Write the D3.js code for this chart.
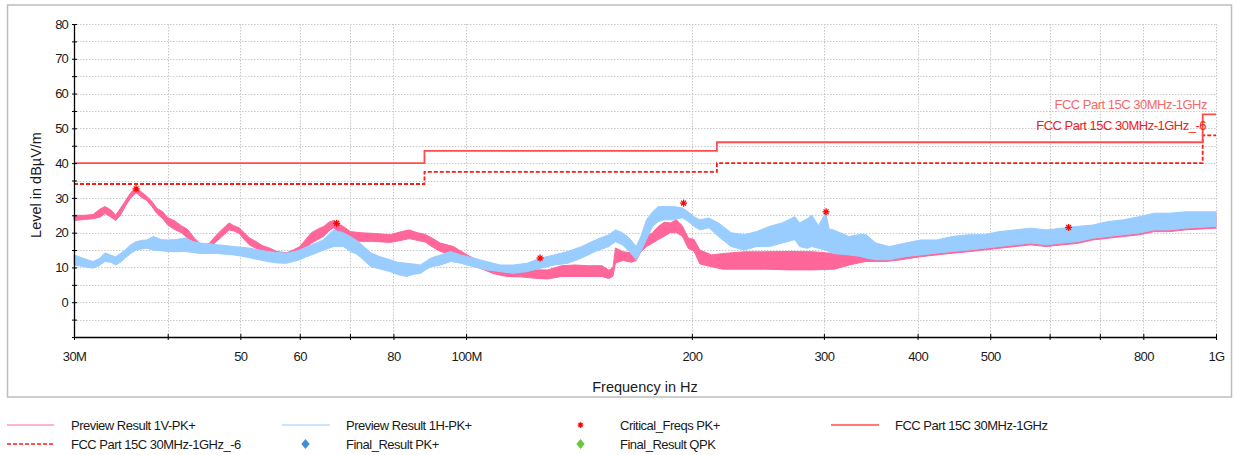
<!DOCTYPE html>
<html>
<head>
<meta charset="utf-8">
<script src="https://cdn.jsdelivr.net/npm/d3@7/dist/d3.min.js"></script>
<style>
  html, body { margin: 0; padding: 0; background: #fff; }
  svg text { font-family: "Liberation Sans", Arial, sans-serif; }
</style>
</head>
<body>
<svg id="chart" width="1235" height="455"></svg>
<script>
// ---------------- DATA ----------------
const freqTicks  = [30, 40, 50, 60, 70, 80, 100, 200, 300, 400, 500, 600, 700, 800, 1000];
const freqLabels = ["30M", "", "50", "60", "", "80", "100M", "200", "300", "400", "500", "", "", "800", "1G"];
const levelTicks = [-10, -5, 0, 5, 10, 15, 20, 25, 30, 35, 40, 45, 50, 55, 60, 65, 70, 75, 80];
const levelLabels = ["", "", "0", "", "10", "", "20", "", "30", "", "40", "", "50", "", "60", "", "70", "", "80"];

// Preview Result 1V-PK+ (noise band: low / high level, dBµV/m)
const vFreq = [30, 31, 31.8, 32.5, 33.0, 33.6, 34.1, 34.6, 35.1, 35.7, 36.3, 37.0, 37.5, 38.1, 38.7, 39.4, 40.0, 40.8, 41.7, 42.5,
  43.4, 44.1, 44.8, 45.5, 46.3, 47.3, 48.3, 49.0, 49.8, 50.6, 51.4, 52.4, 53.6, 54.8, 55.9, 57.6, 58.8, 60.0, 61.1, 62.2,
  63.4, 64.6, 65.6, 66.6, 67.6, 68.6, 70.1, 72.2, 75, 79.2, 82, 84, 86, 88.2, 90, 92.4, 96.2, 100.3, 104.4, 108.8,
  113.4, 118.3, 123.3, 128.5, 134, 139.7, 145.6, 151.8, 155, 157, 158.2, 162, 166, 168.6, 171, 174, 177.3, 180.4, 183.8, 187.2,
  190.7, 194.2, 197.8, 201.4, 205, 212.5, 220, 235, 250, 270, 290, 310, 324, 341, 363, 380, 404, 424, 445, 467,
  490, 514, 539, 566, 594, 623, 653, 685, 718, 753, 790, 828, 868, 910, 1000];
const vLow = [23.5, 23.8, 24, 24.5, 25.5, 24.5, 23.5, 25, 27.5, 30, 31.5, 30, 29.3, 27.5, 25.5, 24, 22.2, 21, 20, 18.5,
  16.5, 15, 15, 15.5, 17.2, 19, 20.8, 20.5, 19.8, 18, 16.5, 15.5, 14.6, 13.5, 12.7, 12.2, 13, 14, 15.5, 17,
  18, 19, 20.5, 21.5, 20, 19.4, 18, 17.5, 17.5, 17.2, 17.8, 18.3, 17.8, 17.3, 16, 14.6, 13.6, 11.7, 9.8, 8.2,
  7.4, 7.3, 6.9, 6.7, 7.4, 7.4, 7.4, 7.4, 6.8, 7.5, 11.3, 12, 11.5, 12, 14.5, 16, 17, 18, 19, 20,
  20, 19, 15.5, 14.6, 11, 10.2, 9.5, 9.5, 9.5, 9.3, 9.3, 9.5, 10.7, 11.7, 11.7, 12.2, 13.1, 13.6, 14.1, 14.5,
  15, 15.5, 16, 16.5, 16, 16.5, 16.9, 17.9, 18.4, 18.9, 19.4, 20.3, 20.3, 20.8, 21.3];
const vHigh = [25, 25, 25.2, 26.8, 27.5, 26.5, 25, 27, 29, 31.5, 33, 31.5, 30.5, 29, 27, 26, 24.3, 23.5, 22, 21,
  18.5, 17, 16.5, 17, 19, 21, 22.8, 22, 21.4, 20, 18.5, 17.5, 16.2, 15.5, 14.6, 14.2, 15, 16, 18, 20,
  21, 21.8, 23, 23.5, 22.5, 21.8, 20.3, 20, 19.8, 19.4, 20.3, 20.8, 20, 19.5, 18.5, 17, 16, 13.6, 11.7, 10.4,
  9.8, 9.5, 9.3, 9.3, 10.5, 10.7, 10.5, 10.5, 9.2, 10, 15.6, 14.5, 14.2, 15, 17.5, 18.8, 20, 21.8, 23, 22.8,
  23.7, 22, 18.5, 18, 15, 13.6, 14, 14.5, 14.5, 14.6, 14.5, 14, 13.6, 14.2, 14.6, 15.5, 17.4, 17.4, 18.4, 18.9,
  18.9, 19.8, 20.3, 20.8, 20.3, 20.8, 21.3, 21.7, 22.7, 23.2, 24.1, 25.1, 25.1, 25.5, 25.8];

// Preview Result 1H-PK+
const hFreq = [30, 31, 31.8, 32.4, 33.0, 33.6, 34.1, 34.6, 35.1, 35.7, 36.3, 37.0, 37.5, 38.3, 39.2, 40.0, 41.0, 42.2, 43.2, 44.2,
  45.4, 46.6, 47.8, 49.0, 50.3, 51.6, 53, 54.3, 56, 57.6, 58.8, 60, 61.1, 62.2, 63.4, 64.6, 65.6, 66.6, 67.6, 68.6,
  70.1, 71.2, 72.2, 73.5, 74.7, 77, 79.2, 81, 83.3, 85, 86.9, 88.3, 89.8, 92.4, 95.4, 98.4, 102.3, 106.5, 111, 115.6,
  120.6, 125.8, 131.1, 136.7, 142.6, 148.7, 155, 158.2, 161.6, 165, 168.6, 171, 174, 177.3, 180.4, 183.8, 189, 194.2, 197.8, 201.4,
  205, 210.8, 217, 225.6, 234.7, 244, 253.7, 263.8, 274.4, 278.5, 285, 289, 295, 301.6, 305, 309, 324, 335, 341.5, 352,
  366.7, 385, 404, 424, 445, 467, 490, 514, 539, 566, 594, 623, 653, 685, 718, 753, 790, 828, 868, 910, 1000];
const hLow = [10.7, 10.2, 9.8, 10.5, 11.7, 11.5, 10.7, 11.5, 12.7, 14, 15, 15.3, 15.5, 15, 14.8, 14.6, 14.5, 14.6, 14.3, 14,
  14, 14, 13.8, 13.6, 13.2, 12.7, 12.2, 11.7, 11.3, 11.2, 11.7, 12.2, 13, 13.6, 14.3, 15, 15.5, 16, 16, 16,
  14.6, 14, 13.1, 11.5, 10.2, 9.5, 8.8, 8, 7.4, 8, 8.3, 9.3, 10.2, 10.7, 11.7, 11.2, 10.2, 9.3, 8.8, 8.3,
  8.8, 9.8, 10.7, 11.2, 12.7, 14.6, 16, 17.4, 16.5, 14.6, 12.2, 14.6, 18, 21.8, 23.2, 23.7, 23.7, 24.3, 23.2, 21.8,
  20.8, 21.4, 18.9, 16, 15, 16, 16, 17, 18, 16, 15.5, 16, 15.5, 15, 14.5, 14, 13.6, 13.2, 12.7, 12.2,
  12.2, 13.1, 13.6, 14.1, 14.6, 15, 15.5, 16, 16.5, 17, 16.5, 17, 17.4, 18.4, 18.9, 19.4, 19.9, 20.8, 20.8, 21.3, 21.8];
const hHigh = [13.6, 12.5, 11.7, 12.5, 14.2, 13.5, 13.1, 14, 15, 16.5, 17.4, 17.8, 17.9, 18.9, 18, 17.9, 18, 18.5, 17.5, 17,
  16.8, 16.5, 16.3, 16, 15.8, 15.5, 15, 14.6, 14.3, 14.1, 14.5, 15, 15.8, 16.5, 17.2, 18, 19.5, 20.8, 20.3, 20,
  18.9, 18, 17, 15.5, 14.1, 13, 12.2, 11.5, 11.2, 11, 10.7, 11.7, 12.7, 13.6, 14.6, 13.6, 12.7, 11.7, 10.7, 10.7,
  11.2, 12.7, 13.6, 14.6, 16, 17.9, 19.4, 20.8, 20, 18.5, 16, 18.9, 23.7, 26, 27.5, 27.5, 27.5, 27.1, 26, 24.6,
  23.7, 24.2, 22.8, 20, 19.4, 20.3, 21.8, 22.8, 24.6, 22.8, 24, 25, 22, 25.7, 21, 20.8, 18.9, 19.5, 19.4, 17,
  16, 17, 17.9, 17.9, 18.9, 19.4, 19.4, 20.3, 20.8, 21.3, 20.8, 21.3, 21.8, 22.2, 23.2, 23.7, 24.6, 25.6, 25.6, 26, 26];

// Critical_Freqs PK+
const critFreq  = [36.3, 67.2, 125.5, 195.0, 302, 636];
const critLevel = [32.6, 22.7, 12.7, 28.5, 26.0, 21.5];

// FCC Part 15C limit and the -6 dB line
const limitFreq = [30, 88, 88, 216, 216, 960, 960, 1000];
const limitLevel = [40, 40, 43.5, 43.5, 46, 46, 54, 54];
const limit6Level = [34, 34, 37.5, 37.5, 40, 40, 48, 48];

const legendLabels = ["Preview Result 1V-PK+", "Preview Result 1H-PK+", "Critical_Freqs PK+", "FCC Part 15C 30MHz-1GHz",
  "FCC Part 15C 30MHz-1GHz_-6", "Final_Result PK+", "Final_Result QPK"];

// ---------------- DRAW ----------------
const svg = d3.select("#chart");
const pL = 74, pR = 1216, pT = 24, pB = 337;
const x = d3.scaleLog().domain([30, 1000]).range([pL, pR]);
const y = d3.scaleLinear().domain([-10, 80]).range([pB, pT]);

const C = {
  v: "#ff6699", h: "#99ccff", lim: "#ff4d4d", lim6: "#ff1a1a",
  crit: "#ff0000", grid: "#c8c8c8", text: "#1a1a1a"
};

// outer frame
svg.append("rect").attr("x", 7.5).attr("y", 5).attr("width", 1224).attr("height", 392)
  .attr("fill", "none").attr("stroke", "#bdbdbd").attr("stroke-width", 1.5);

// grid
const g = svg.append("g");
g.selectAll("line.hg").data(levelTicks.filter(v => v > -10)).join("line")
  .attr("x1", pL).attr("x2", pR)
  .attr("y1", d => Math.round(y(d)) + 0.5).attr("y2", d => Math.round(y(d)) + 0.5)
  .attr("stroke", C.grid).attr("stroke-width", 1).attr("stroke-dasharray", "1.5,1.5");
g.selectAll("line.vg").data(freqTicks.filter(f => f > 30)).join("line")
  .attr("y1", pT).attr("y2", pB)
  .attr("x1", d => Math.round(x(d)) + 0.5).attr("x2", d => Math.round(x(d)) + 0.5)
  .attr("stroke", C.grid).attr("stroke-width", 1).attr("stroke-dasharray", "1.5,1.5");

// traces
function band(fr, lo, hi) {
  return d3.area().x((d, i) => x(fr[i])).y0((d, i) => y(lo[i])).y1((d, i) => y(hi[i]))(fr);
}
svg.append("path").attr("d", band(vFreq, vLow, vHigh))
  .attr("fill", C.v).attr("stroke", C.v).attr("stroke-width", 1).attr("stroke-linejoin", "round");
svg.append("path").attr("d", band(hFreq, hLow, hHigh))
  .attr("fill", C.h).attr("stroke", C.h).attr("stroke-width", 1).attr("stroke-linejoin", "round");

// limit lines
const limLine = lv => d3.line().x((d, i) => x(limitFreq[i])).y((d, i) => y(lv[i]))(limitFreq);
svg.append("path").attr("d", limLine(limit6Level)).attr("fill", "none")
  .attr("stroke", C.lim6).attr("stroke-width", 1.8).attr("stroke-dasharray", "4,2");
svg.append("path").attr("d", limLine(limitLevel)).attr("fill", "none")
  .attr("stroke", C.lim).attr("stroke-width", 1.8);

// limit labels
const txt = (sel) => sel.attr("font-size", 13).attr("letter-spacing", "-0.5px");
svg.append("text").text(legendLabels[3]).attr("x", 1207).attr("y", 109)
  .attr("text-anchor", "end").attr("fill", "#f26a6a").call(txt);
svg.append("text").text(legendLabels[4]).attr("x", 1206).attr("y", 130)
  .attr("text-anchor", "end").attr("fill", "#ee1c1c").call(txt);

// asterisk marker
function asterisk(sel, cx, cy, r) {
  const a = sel.append("g").attr("transform", `translate(${cx},${cy})`)
    .attr("stroke", C.crit).attr("stroke-width", 1.3);
  [[0, -r, 0, r], [-r, 0, r, 0], [-r * 0.7, -r * 0.7, r * 0.7, r * 0.7], [-r * 0.7, r * 0.7, r * 0.7, -r * 0.7]]
    .forEach(p => a.append("line").attr("x1", p[0]).attr("y1", p[1]).attr("x2", p[2]).attr("y2", p[3]));
  a.append("circle").attr("r", 1.3).attr("fill", C.crit).attr("stroke", "none");
}
critFreq.forEach((f, i) => asterisk(svg, x(f), y(critLevel[i]), 3.5));

// axes
const yAxis = svg.append("g").attr("transform", `translate(${pL},0)`)
  .call(d3.axisLeft(y).tickValues(levelTicks).tickFormat((d, i) => levelLabels[i]).tickSize(2).tickPadding(4));
yAxis.select(".domain").attr("stroke", "#000").attr("stroke-width", 1.3).attr("d", `M0.5,${pT}V${pB}`);
yAxis.selectAll(".tick line").attr("x1", 3).attr("x2", -2).attr("stroke", "#000");
yAxis.selectAll(".tick text").attr("fill", C.text).attr("font-size", 13).attr("letter-spacing", "-0.8px")
  .attr("font-family", "Liberation Sans, Arial, sans-serif");

const xAxis = svg.append("g").attr("transform", `translate(0,${pB})`)
  .call(d3.axisBottom(x).tickValues(freqTicks).tickFormat((d, i) => freqLabels[i]).tickSize(3).tickPadding(12));
xAxis.select(".domain").attr("stroke", "#000").attr("stroke-width", 1.3).attr("d", `M${pL},0.5H${pR}`);
xAxis.selectAll(".tick line").attr("y1", -3).attr("y2", 3).attr("stroke", "#000");
xAxis.selectAll(".tick text").attr("fill", C.text).attr("font-size", 13).attr("letter-spacing", "-0.6px")
  .attr("font-family", "Liberation Sans, Arial, sans-serif");

// axis titles
svg.append("text").text("Frequency in Hz").attr("x", (pL + pR) / 2).attr("y", 392)
  .attr("text-anchor", "middle").attr("fill", C.text).attr("font-size", 14.5);
svg.append("text").text("Level in dBµV/m").attr("transform", `translate(41,185) rotate(-90)`)
  .attr("text-anchor", "middle").attr("fill", C.text).attr("font-size", 14.5);

// legend
const lg = svg.append("g");
const row1 = 425, row2 = 444;
function legText(xx, yy, t) {
  lg.append("text").text(t).attr("x", xx).attr("y", yy + 5).attr("fill", C.text).call(txt);
}
lg.append("line").attr("x1", 7).attr("x2", 54).attr("y1", row1).attr("y2", row1).attr("stroke", C.v).attr("stroke-width", 1);
legText(71, row1, legendLabels[0]);
lg.append("line").attr("x1", 282).attr("x2", 330).attr("y1", row1).attr("y2", row1).attr("stroke", C.h).attr("stroke-width", 1);
legText(346, row1, legendLabels[1]);
asterisk(lg, 580.5, row1, 2.8);
legText(620, row1, legendLabels[2]);
lg.append("line").attr("x1", 831).attr("x2", 879).attr("y1", row1).attr("y2", row1).attr("stroke", C.lim).attr("stroke-width", 1.5);
legText(895, row1, legendLabels[3]);

lg.append("line").attr("x1", 7).attr("x2", 54).attr("y1", row2).attr("y2", row2)
  .attr("stroke", C.lim6).attr("stroke-width", 1.5).attr("stroke-dasharray", "4,2");
legText(71, row2, legendLabels[4]);
const diamond = (cx, cy, col) => lg.append("path")
  .attr("d", d3.symbol(d3.symbolDiamond, 30)()).attr("transform", `translate(${cx},${cy}) scale(1.4,1.0)`).attr("fill", col);
diamond(305.5, row2, "#3d8fd9");
legText(346, row2, legendLabels[5]);
diamond(580.5, row2, "#66c93a");
legText(620, row2, legendLabels[6]);
</script>
</body>
</html>
